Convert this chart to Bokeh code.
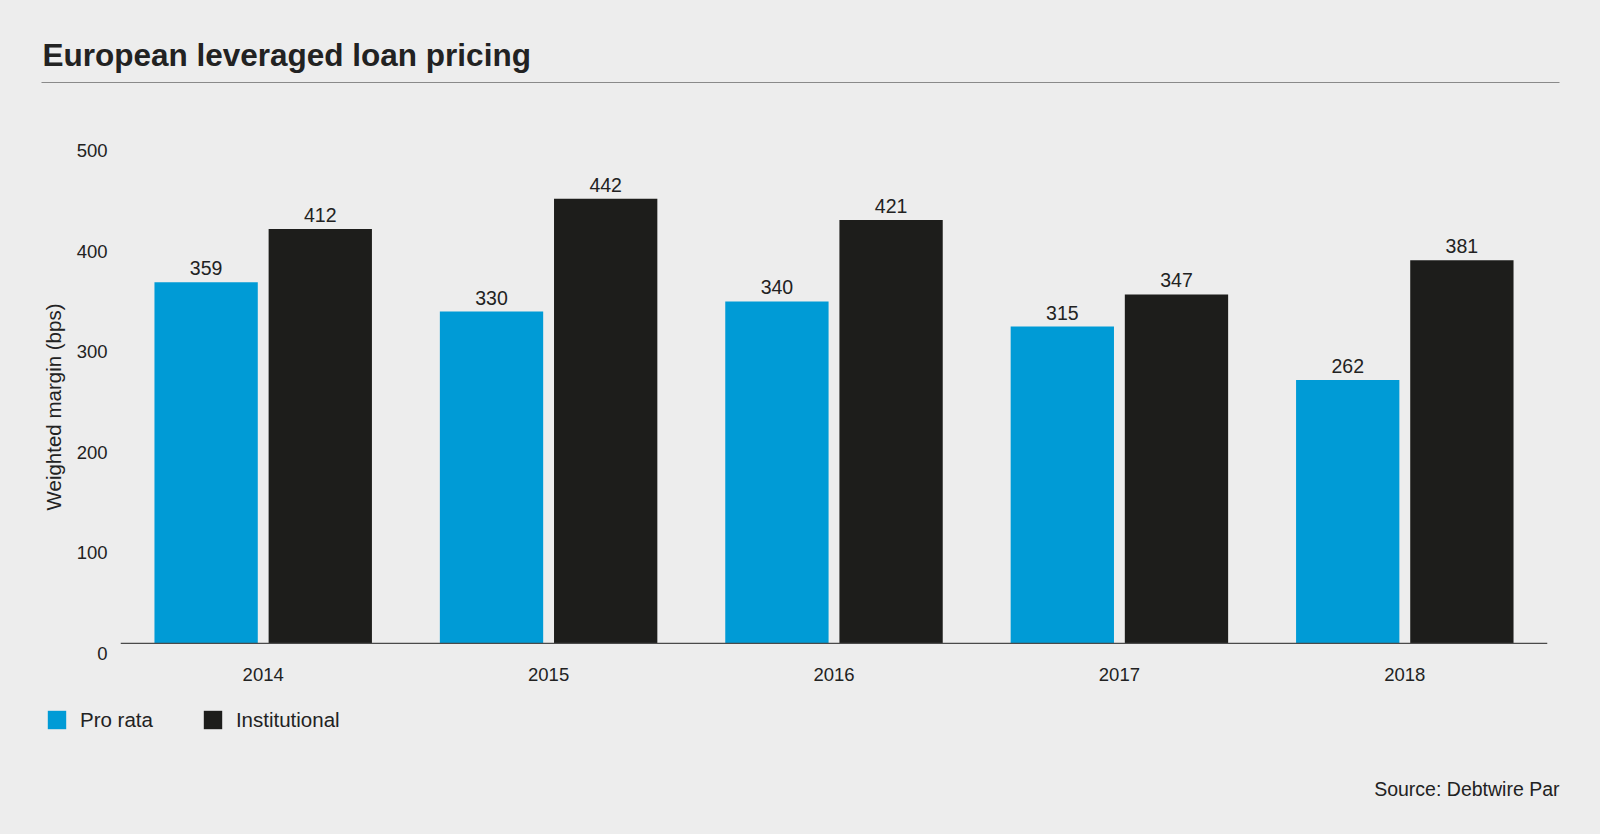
from bokeh.plotting import figure
from bokeh.models import (ColumnDataSource, Range1d, FactorRange, FixedTicker, Label,
                          LabelSet, Legend, LegendItem, LinearAxis, Span)
from bokeh.layouts import column, row
from bokeh.transform import dodge
from bokeh.core.properties import value
from bokeh.embed import file_html
from bokeh.resources import INLINE

years = ["2014", "2015", "2016", "2017", "2018"]
pro_rata = [359, 330, 340, 315, 262]
institutional = [412, 442, 421, 347, 381]
y_ticks = [0, 100, 200, 300, 400, 500]

BG = "#ededed"
BLUE = "#009bd6"
DARK = "#1d1d1b"
TXT = "#222222"
FONT = "Liberation Sans"

W, H = 1600, 834
HEAD_H = 100
MID_H = 600
FOOT_H = H - HEAD_H - MID_H
STRIP_W = 68
FL, FR, FT = 120, 1547, 140     # chart frame edges on the page
Y_MAX = 500
SHIFT = 10                       # tick labels sit this many units below their value
FB = 653                         # frame bottom (value -SHIFT); baseline (0) at 643


def blank(width, height, yr=None, top=0, bottom=0):
    f = figure(width=width, height=height, x_range=Range1d(0, width),
               y_range=yr or Range1d(height, 0), x_axis_type=None, y_axis_type=None,
               output_backend="svg", toolbar_location=None, min_border=0,
               min_border_top=top, min_border_bottom=bottom)
    f.background_fill_color = BG
    f.border_fill_color = BG
    f.outline_line_color = None
    f.grid.visible = False
    return f


# ---------- header ----------
head = blank(W, HEAD_H)
head.add_layout(Label(x=42, y=54, text="European leveraged loan pricing", text_font=FONT,
                      text_font_size="31.5px", text_font_style="bold", text_color=TXT,
                      text_baseline="middle"))
head.segment(x0=[41], y0=[82], x1=[1559], y1=[82], line_color="#8a8a8a", line_width=1.2)

# ---------- main chart ----------
src = ColumnDataSource(dict(x=years, pro=pro_rata, inst=institutional,
                            pro_t=[str(v) for v in pro_rata],
                            inst_t=[str(v) for v in institutional]))

p = figure(width=W - STRIP_W, height=MID_H, x_range=FactorRange(*years),
           y_range=Range1d(-SHIFT, Y_MAX), y_axis_location=None,
           output_backend="svg", toolbar_location=None,
           min_border_left=FL - STRIP_W, min_border_right=W - FR,
           min_border_top=FT - HEAD_H, min_border_bottom=HEAD_H + MID_H - FB)
p.background_fill_color = BG
p.border_fill_color = BG
p.outline_line_color = None
p.grid.visible = False

# axis whose labels sit slightly below their values, as in the reference
p.extra_y_ranges = {"lab": Range1d(0, Y_MAX + SHIFT)}
ya = LinearAxis(y_range_name="lab", ticker=FixedTicker(ticks=y_ticks))
ya.axis_line_color = None
ya.major_tick_line_color = None
ya.minor_tick_line_color = None
ya.major_tick_out = 0
ya.major_tick_in = 0
ya.minor_tick_out = 0
ya.major_label_text_font = FONT
ya.major_label_text_font_size = "18.5px"
ya.major_label_text_color = TXT
ya.major_label_standoff = 13
p.add_layout(ya, "left")

p.vbar(x=dodge("x", -0.2, range=p.x_range), top="pro", width=0.362, source=src,
       fill_color=BLUE, line_color=None)
p.vbar(x=dodge("x", 0.2, range=p.x_range), top="inst", width=0.362, source=src,
       fill_color=DARK, line_color=None)
p.add_layout(Span(location=0, dimension="width", line_color="#4a4a4a", line_width=1.2))

for col, off in (("pro", -0.2), ("inst", 0.2)):
    p.add_layout(LabelSet(x=dodge("x", off, range=p.x_range), y=col, text=col + "_t",
                          source=src, text_align="center", text_baseline="alphabetic",
                          y_offset=7, text_font=value(FONT), text_font_size=value("19.5px"),
                          text_color=value(TXT)))

xa = p.xaxis[0]
xa.axis_line_color = None
xa.major_tick_line_color = None
xa.minor_tick_line_color = None
xa.major_label_text_font = FONT
xa.major_label_text_font_size = "18.5px"
xa.major_label_text_color = TXT
xa.major_label_standoff = 8

# ---------- y axis title strip (page coordinates) ----------
strip = blank(STRIP_W, MID_H, yr=Range1d(FB, FT),
              top=FT - HEAD_H, bottom=HEAD_H + MID_H - FB)
strip.add_layout(Label(x=53, y=406.5, text="Weighted margin (bps)", text_font=FONT,
                       text_font_size="20.5px", text_color=TXT, angle=1.5708,
                       text_align="center", text_baseline="middle"))

# ---------- footer: legend + source ----------
foot = blank(W, FOOT_H)
proxy = ColumnDataSource(dict(i=list(range(len(years))), pro=pro_rata, inst=institutional))
l1 = foot.vbar(x="i", top="pro", width=0.5, source=proxy, fill_color=BLUE,
               line_color=None, visible=False)
l2 = foot.vbar(x="i", top="inst", width=0.5, source=proxy, fill_color=DARK,
               line_color=None, visible=False)
GL = 23
legend = Legend(items=[LegendItem(label="Pro rata", renderers=[l1]),
                       LegendItem(label="Institutional", renderers=[l2])],
                orientation="horizontal",
                location=(45, FOOT_H - (708.7 - HEAD_H - MID_H) - GL),
                glyph_width=GL, glyph_height=GL, label_standoff=12, spacing=48,
                padding=0, margin=0, border_line_color=None, background_fill_alpha=0,
                inactive_fill_alpha=0,
                label_text_font=FONT, label_text_font_size="20.5px", label_text_color=TXT,
                label_height=GL)
foot.add_layout(legend, "center")
foot.add_layout(Label(x=1559, y=788 - HEAD_H - MID_H, text="Source: Debtwire Par",
                      text_font=FONT, text_font_size="19.5px", text_color=TXT,
                      text_align="right", text_baseline="middle"))

mid = row(strip, p, spacing=0, styles={"background-color": BG})
layout = column(head, mid, foot, spacing=0, styles={"background-color": BG})
open("out.html", "w").write(file_html(layout, INLINE))
